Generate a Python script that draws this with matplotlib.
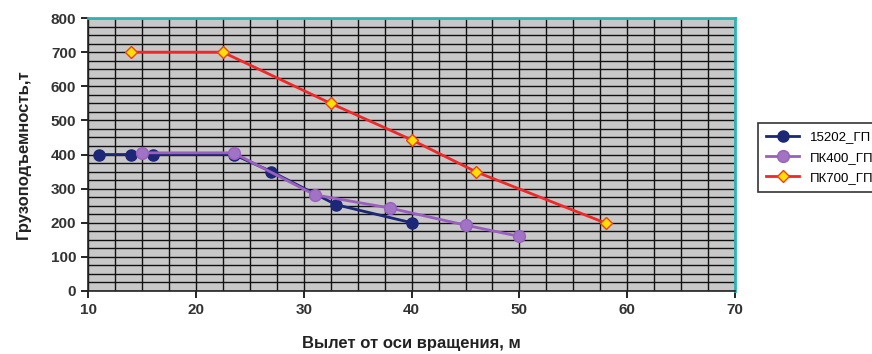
import numpy as np
import matplotlib.pyplot as plt
from matplotlib.ticker import MultipleLocator

plt.rcParams['font.family'] = ['Liberation Sans', 'DejaVu Sans']

# data
x_15202 = [11, 14, 16, 23.5, 27, 33, 40]
y_15202 = [400, 400, 400, 400, 350, 253, 200]
x_pk400 = [15, 23.5, 31, 38, 45, 50]
y_pk400 = [405, 405, 282, 243, 193, 160]
x_pk700 = [14, 22.5, 32.5, 40, 46, 58]
y_pk700 = [700, 700, 550, 443, 349, 199]

fig = plt.figure(figsize=(8.72, 3.54), dpi=100)
ax = fig.add_axes([0.101, 0.178, 0.742, 0.771])
ax.set_facecolor('#c8c8c8')

ax.plot(x_15202, y_15202, color='#1c2778', lw=2, marker='o', ms=8,
        label='15202_ГП', zorder=3)
ax.plot(x_pk400, y_pk400, color='#9b5fc0', lw=2, marker='o', ms=8.5,
        mfc='#a073c4', mec='#9b5fc0', label='ПК400_ГП', zorder=4)
ax.plot(x_pk700, y_pk700, color='#f02828', lw=2, marker='D', ms=6,
        mfc='#ffe000', mec='#f04010', label='ПК700_ГП', zorder=5)

ax.set_xlim(10, 70)
ax.set_ylim(0, 800)
ax.xaxis.set_major_locator(MultipleLocator(10))
ax.xaxis.set_minor_locator(MultipleLocator(2.5))
ax.yaxis.set_major_locator(MultipleLocator(100))
ax.yaxis.set_minor_locator(MultipleLocator(25))
ax.grid(which='both', color='#111111', lw=1.0)
ax.set_axisbelow(True)
ax.tick_params(which='minor', length=0)
ax.tick_params(which='major', direction='out', length=5, width=1.2,
               labelsize=11)
for lbl in ax.get_xticklabels() + ax.get_yticklabels():
    lbl.set_fontweight('bold')
    lbl.set_color('#333333')

for s in ['top', 'right']:
    ax.spines[s].set_color('#2ab5b5')
    ax.spines[s].set_linewidth(2)
for s in ['left', 'bottom']:
    ax.spines[s].set_color('#222222')
    ax.spines[s].set_linewidth(1.2)

ax.set_xlabel('Вылет от оси вращения, м', fontsize=12, fontweight='bold',
              color='#222222', labelpad=14)
ax.set_ylabel('Грузоподъемность,т', fontsize=12, fontweight='bold',
              color='#222222', labelpad=14)

leg = fig.legend(loc='upper left', bbox_to_anchor=(0.862, 0.67),
                 fontsize=9.5, frameon=True, fancybox=False, handlelength=2.5,
                 borderpad=0.6, labelspacing=0.6)
leg.get_frame().set_edgecolor('black')
leg.get_frame().set_linewidth(1.2)

fig.savefig('out.png', dpi=100)
